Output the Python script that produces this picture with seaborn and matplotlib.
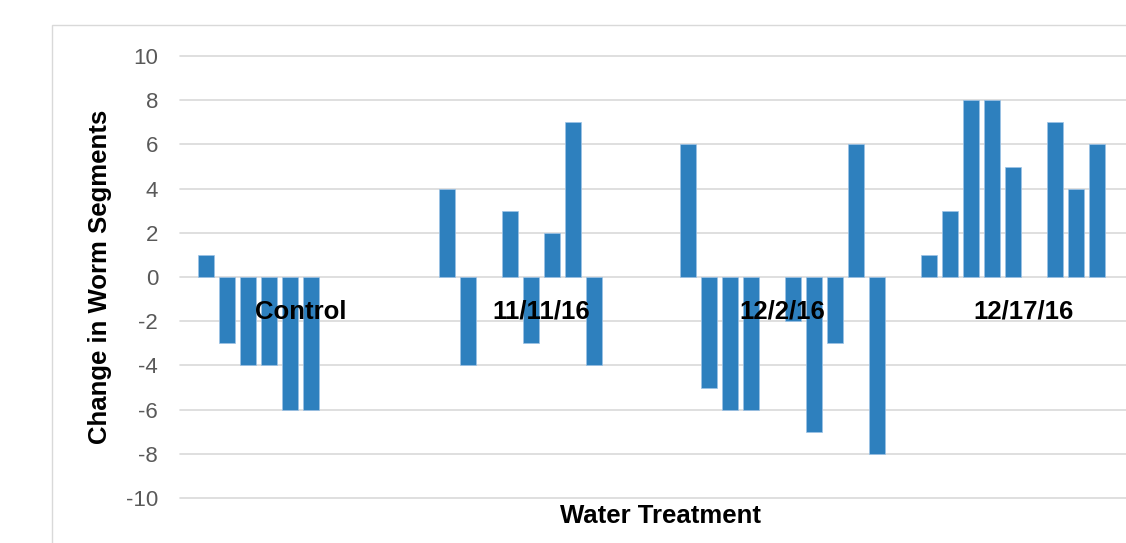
import pandas as pd
import numpy as np
import matplotlib.pyplot as plt
import seaborn as sns
from matplotlib.patches import Rectangle

# --- data (10 worm slots per treatment, NaN = no bar) ---
treatments = ["Control", "11/11/16", "12/2/16", "12/17/16"]
control = [1, -3, -4, -4, -6, -6, np.nan, np.nan, np.nan, np.nan]
nov_11 = [4, -4, np.nan, 3, -3, 2, 7, -4, np.nan, np.nan]
dec_02 = [6, -5, -6, -6, np.nan, -2, -7, -3, 6, -8]
dec_17 = [1, 3, 8, 8, 5, np.nan, 7, 4, 6, np.nan]
y_ticks = list(range(-10, 11, 2))

# --- style ---
BAR_BLUE = "#2E80BE"
GRID_GREY = "#D9D9D9"
TICK_GREY = "#595959"
sns.set_style("white")
plt.rcParams['font.family'] = ['Liberation Sans', 'DejaVu Sans']

slots = [f"S{i + 1}" for i in range(len(control))]
rows = []
for name, vals in zip(treatments, [control, nov_11, dec_02, dec_17]):
    for slot, v in zip(slots, vals):
        rows.append({"treatment": name, "slot": slot, "change": v})
df = pd.DataFrame(rows).dropna()

fig = plt.figure(figsize=(11.26, 5.43), dpi=100)
W, H = 1126, 543
# plot area runs past the right edge, as in the reference
ax = fig.add_axes([180 / W, 1 - 498 / H, 964 / W, 442 / H])

# chart area border (cut off on the right and bottom)
fig.add_artist(Rectangle((52 / W, -0.2), 1.2, 0.2 + (1 - 25 / H),
                         transform=fig.transFigure, fill=False,
                         edgecolor=GRID_GREY, linewidth=1))

sns.barplot(data=df, x="treatment", y="change", hue="slot",
            order=treatments, hue_order=slots,
            palette=[BAR_BLUE] * len(slots), saturation=1,
            width=10 / 11.5, gap=0.22, errorbar=None, legend=False,
            edgecolor="#9DC3E6", linewidth=0.5, ax=ax)

ax.set_ylim(-10, 10)
ax.set_xlim(-0.5, len(treatments) - 0.5)
ax.set_yticks(y_ticks)
ax.set_yticklabels([str(t) for t in y_ticks])
ax.tick_params(axis='y', length=0, pad=15.8, labelsize=16, labelcolor=TICK_GREY)
ax.set_xticks([])
ax.yaxis.grid(True, color=GRID_GREY, linewidth=1.2)
for gl in ax.get_ygridlines():
    gl.set_clip_on(False)
ax.set_axisbelow(True)
for s in ax.spines.values():
    s.set_visible(False)

# category labels sit just below the zero line
for i, name in enumerate(treatments):
    ax.annotate(name, xy=(i, 0), xytext=(0, -30.2), textcoords='offset points',
                ha='center', va='baseline', fontsize=18.5, fontweight='bold',
                color='black', annotation_clip=False)

ax.set_ylabel("Change in Worm Segments", fontsize=18.5, fontweight='bold', color='black')
ax.yaxis.set_label_coords((112 - 180) / 964, 0.5)
ax.set_xlabel("Water Treatment", fontsize=18.5, fontweight='bold', color='black')
ax.xaxis.set_label_coords((661 - 180) / 964, (498 - 504) / 442)

fig.savefig("out.png", dpi=100)
plt.close(fig)
